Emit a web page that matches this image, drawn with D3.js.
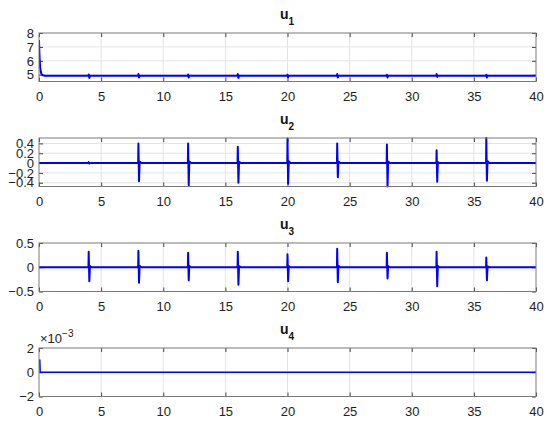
<!DOCTYPE html>
<html>
<head>
<meta charset="utf-8">
<script src="https://cdn.jsdelivr.net/npm/d3@7"></script>
<style>
  body { margin: 0; background: #fff; }
  svg { display: block; font-family: "Liberation Sans", Arial, Helvetica, sans-serif; }
  .tick text { fill: #222; font-size: 13px; }
  .domain { display: none; }
</style>
</head>
<body>
<svg id="chart"></svg>
<script>
var width = 550,
    height = 426;

// time axis
var xTicks = [0, 5, 10, 15, 20, 25, 30, 35, 40];

// times at which the spikes happen
var spikeTimes = [4, 8, 12, 16, 20, 24, 28, 32, 36];

// u1: start-up decay then small blips
var u1Start = [[0, 7.5], [0.03, 6.6], [0.06, 6.0], [0.1, 5.5], [0.15, 5.2], [0.2, 5.05], [0.3, 4.97], [0.5, 4.93]];
var u1Base = 4.93;
var u1Up = [0.1, 0.12, 0.1, 0.12, 0.08, 0.12, 0.08, 0.12, 0.08];
var u1Down = [-0.15, -0.12, -0.12, -0.15, -0.1, -0.12, -0.12, -0.08, -0.12];

// u2 spikes (peak, trough)
var u2Up = [0.02, 0.40, 0.40, 0.33, 0.50, 0.40, 0.38, 0.26, 0.51];
var u2Down = [-0.01, -0.37, -0.45, -0.40, -0.42, -0.29, -0.48, -0.38, -0.36];

// u3 spikes (peak, trough)
var u3Up = [0.32, 0.34, 0.30, 0.32, 0.27, 0.38, 0.30, 0.32, 0.20];
var u3Down = [-0.29, -0.32, -0.27, -0.36, -0.29, -0.31, -0.23, -0.39, -0.27];

// u4 (x 1e-3)
var u4Start = [[0.03, 1.05], [0.06, 1.0], [0.09, 0], [40, 0]];

var svg = d3.select("#chart")
    .attr("width", width)
    .attr("height", height);

var left = 39, right = 536, plotH = 48.5;
var tops = [33, 138, 243, 348];

var x = d3.scaleLinear().domain([0, 40]).range([left, right]);

function spikeSeries(base, ups, downs) {
    var pts = [[0, base]];
    spikeTimes.forEach(function(t, i) {
        pts.push([t - 0.02, base]);
        pts.push([t, base + ups[i]]);
        pts.push([t + 0.05, base + downs[i]]);
        pts.push([t + 0.1, base + ups[i] * 0.08]);
        pts.push([t + 0.25, base]);
    });
    pts.push([40, base]);
    return pts;
}

var u1 = u1Start.concat(spikeSeries(u1Base, u1Up, u1Down).slice(1));
var u2 = spikeSeries(0, u2Up, u2Down);
var u3 = spikeSeries(0, u3Up, u3Down);
var u4 = u4Start;

function minusFmt(f) {
    return function(d) { return d === 0 ? "0" : f(d).replace("-", "\u2212"); };
}

var panels = [
    { name: "1", data: u1, domain: [4.52, 8], ticks: [5, 6, 7, 8], fmt: d3.format("d"), lw: 2 },
    { name: "2", data: u2, domain: [-0.476, 0.51], ticks: [-0.4, -0.2, 0, 0.2, 0.4], fmt: minusFmt(d3.format(".1f")), lw: 2 },
    { name: "3", data: u3, domain: [-0.5, 0.5], ticks: [-0.5, 0, 0.5], fmt: minusFmt(d3.format(".1f")), lw: 2 },
    { name: "4", data: u4, domain: [-2, 2], ticks: [-2, 0, 2], fmt: minusFmt(d3.format("d")), lw: 1.6, exp: true }
];

panels.forEach(function(p, i) {
    var top = tops[i], bottom = top + plotH;
    var y = d3.scaleLinear().domain(p.domain).range([bottom, top]);
    var g = svg.append("g");

    // grid
    g.append("g").selectAll("line")
        .data(xTicks.slice(1, -1)).enter().append("line")
        .attr("x1", d => x(d)).attr("x2", d => x(d))
        .attr("y1", top).attr("y2", bottom)
        .attr("stroke", "#e3e3e3").attr("stroke-width", 1);
    g.append("g").selectAll("line")
        .data(p.ticks.filter(d => y(d) > top + 1 && y(d) < bottom - 1)).enter().append("line")
        .attr("x1", left).attr("x2", right)
        .attr("y1", d => y(d)).attr("y2", d => y(d))
        .attr("stroke", "#e3e3e3").attr("stroke-width", 1);

    // axes, ticks pointing inwards like matlab
    g.append("g")
        .attr("transform", "translate(0," + bottom + ")")
        .call(d3.axisBottom(x).tickValues(xTicks).tickSize(-4).tickPadding(10))
        .call(a => a.selectAll(".tick line").attr("stroke", "#444"));
    g.append("g")
        .attr("transform", "translate(0," + top + ")")
        .call(d3.axisTop(x).tickValues(xTicks).tickSize(-4).tickFormat(""))
        .call(a => a.selectAll(".tick line").attr("stroke", "#444"));
    g.append("g")
        .attr("transform", "translate(" + left + ",0)")
        .call(d3.axisLeft(y).tickValues(p.ticks).tickSize(-4).tickPadding(5).tickFormat(p.fmt))
        .call(a => a.selectAll(".tick line").attr("stroke", "#444"));
    g.append("g")
        .attr("transform", "translate(" + right + ",0)")
        .call(d3.axisRight(y).tickValues(p.ticks).tickSize(-4).tickFormat(""))
        .call(a => a.selectAll(".tick line").attr("stroke", "#444"));

    svg.append("clipPath").attr("id", "clip" + i)
        .append("rect").attr("x", left).attr("y", top - 1)
        .attr("width", right - left).attr("height", plotH + 2);

    g.append("path")
        .datum(p.data)
        .attr("clip-path", "url(#clip" + i + ")")
        .attr("fill", "none")
        .attr("stroke", "#0000ff")
        .attr("stroke-width", p.lw)
        .attr("stroke-linejoin", "round")
        .attr("d", d3.line().x(d => x(d[0])).y(d => y(d[1])));

    // box
    g.append("rect")
        .attr("x", left).attr("y", top)
        .attr("width", right - left).attr("height", plotH)
        .attr("fill", "none").attr("stroke", "#7a7a7a").attr("stroke-width", 1);

    // title
    var t = svg.append("text")
        .attr("x", 287).attr("y", top - 14.5)
        .attr("text-anchor", "middle")
        .attr("font-weight", "bold")
        .attr("font-size", 14)
        .attr("fill", "#111");
    t.append("tspan").text("u");
    t.append("tspan").attr("font-size", 10).attr("dy", 6).text(p.name);

    if (p.exp) {
        var e = svg.append("text")
            .attr("x", 40).attr("y", top - 5)
            .attr("font-size", 13)
            .attr("fill", "#222");
        e.append("tspan").text("\u00d710");
        e.append("tspan").attr("font-size", 10).attr("dy", -6).text("\u22123");
    }
});
</script>
</body>
</html>
